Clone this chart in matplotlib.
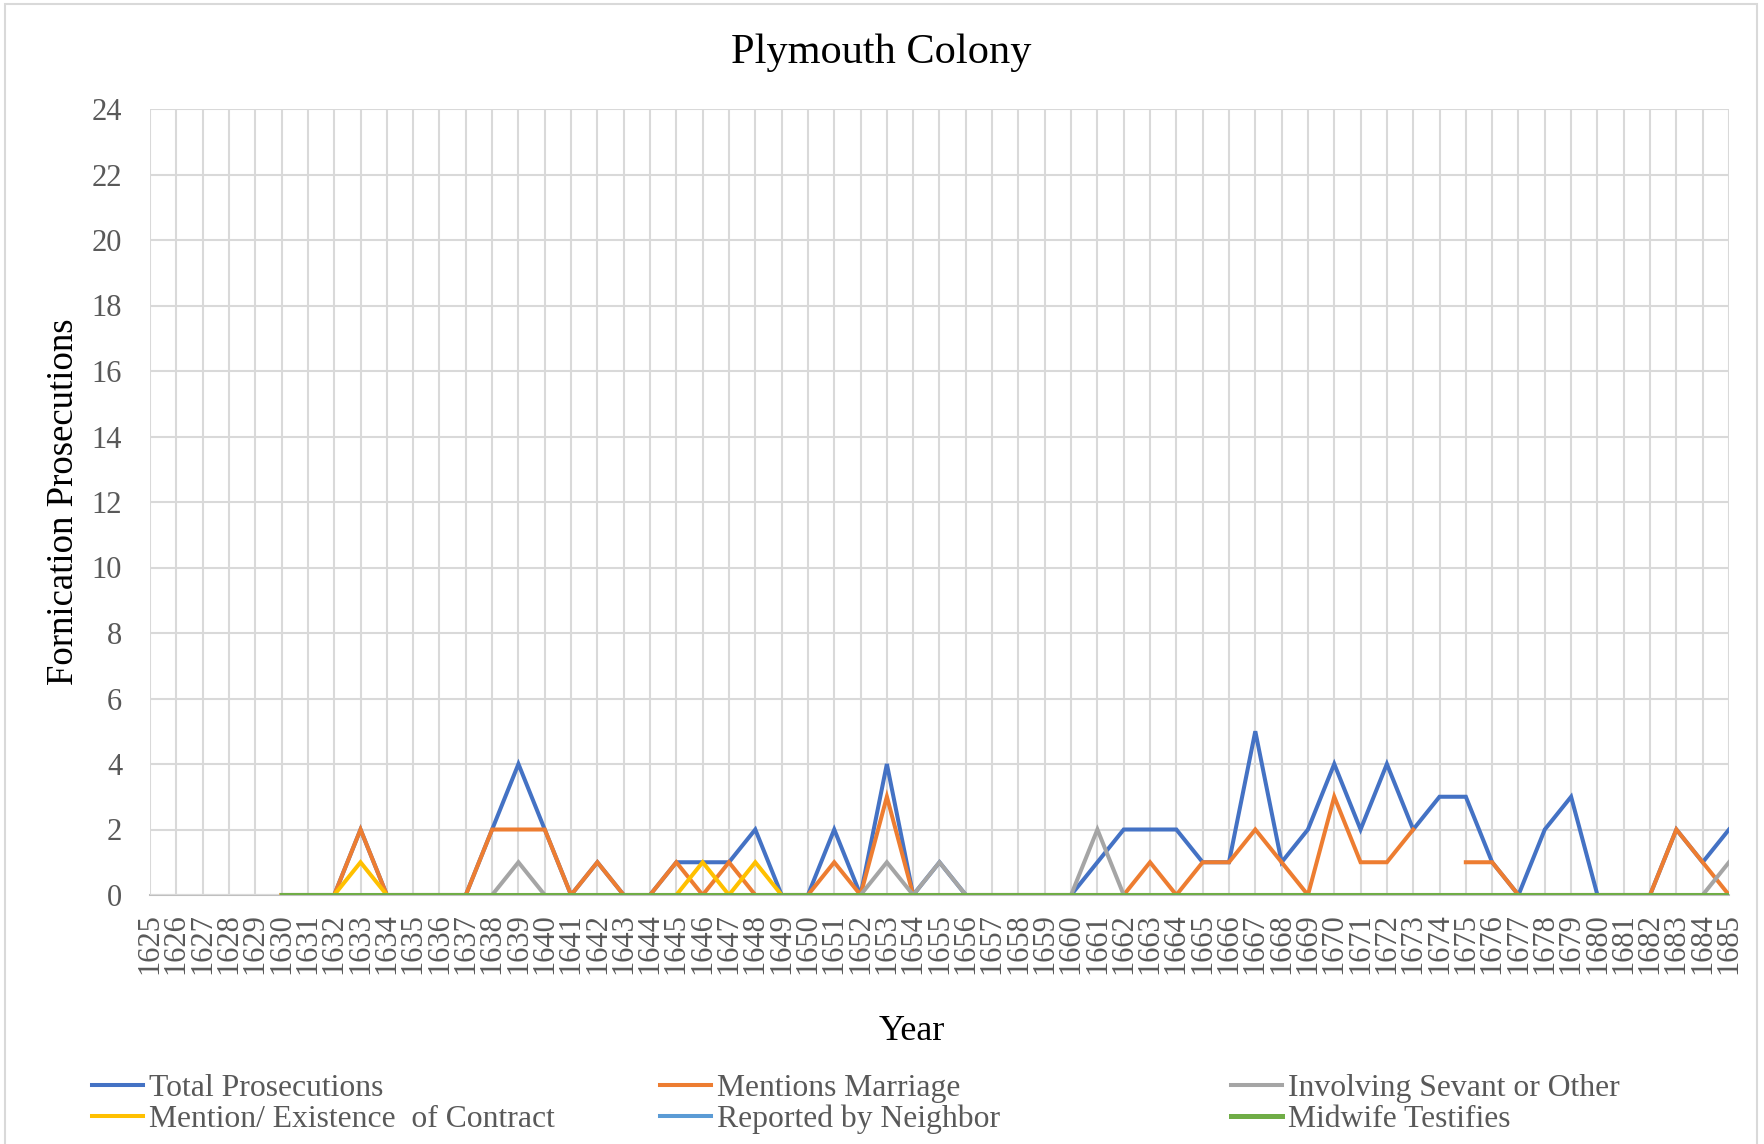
import numpy as np
import matplotlib
matplotlib.use("Agg")
import matplotlib.pyplot as plt
from matplotlib.patches import Rectangle

# ========== DATA ==========
years = list(range(1625, 1686))
nan = np.nan
# values start in 1630; 1625-1629 have no entries
pre = [nan] * 5

total = pre + [0, 0, 0, 2, 0, 0, 0, 0, 2, 4, 2, 0, 1, 0, 0, 1, 1, 1, 2, 0,
               0, 2, 0, 4, 0, 1, 0, 0, 0, 0, 0, 1, 2, 2, 2, 1, 1, 5, 1, 2,
               4, 2, 4, 2, 3, 3, 1, 0, 2, 3, 0, 0, 0, 2, 1, 2]
marriage = pre + [0, 0, 0, 2, 0, 0, 0, 0, 2, 2, 2, 0, 1, 0, 0, 1, 0, 1, 0, 0,
                  0, 1, 0, 3, 0, 0, 0, 0, 0, 0, 0, 0, 0, 1, 0, 1, 1, 2, 1, 0,
                  3, 1, 1, 2, nan, 1, 1, 0, 0, 0, 0, 0, 0, 2, 1, 0]
servant = pre + [0, 0, 0, 0, 0, 0, 0, 0, 0, 1, 0, 0, 0, 0, 0, 0, 0, 0, 0, 0,
                 0, 0, 0, 1, 0, 1, 0, 0, 0, 0, 0, 2, 0, 0, 0, 0, 0, 0, 0, 0,
                 0, 0, 0, 0, 0, 0, 0, 0, 0, 0, 0, 0, 0, 0, 0, 1]
contract = pre + [0, 0, 0, 1, 0, 0, 0, 0, 0, 0, 0, 0, 0, 0, 0, 0, 1, 0, 1, 0,
                  0, 0, 0, 0, 0, 0, 0, 0, 0, 0, 0, 0, 0, 0, 0, 0, 0, 0, 0, 0,
                  0, 0, 0, 0, 0, 0, 0, 0, 0, 0, 0, 0, 0, 0, 0, 0]
neighbor = pre + [0] * 56
midwife = pre + [0] * 56

labels = ["Total Prosecutions", "Mentions Marriage", "Involving Sevant or Other",
          "Mention/ Existence  of Contract", "Reported by Neighbor", "Midwife Testifies"]
colors = ["#4472C4", "#ED7D31", "#A5A5A5", "#FFC000", "#5B9BD5", "#70AD47"]
widths = [2.9, 2.9, 2.9, 2.9, 2.9, 3.6]
# ==========================

plt.rcParams['font.family'] = ['Liberation Serif', 'DejaVu Serif']

W, H = 1765, 1144
fig = plt.figure(figsize=(W / 100, H / 100), dpi=100)
ax = fig.add_axes([150 / W, 1 - 895 / H, (1729 - 150) / W, (895 - 109) / H])

x = np.arange(len(years))
series = [total, marriage, servant, contract, neighbor, midwife]
lines = []
for vals, lab, col, lw in zip(series, labels, colors, widths):
    ln, = ax.plot(x, vals, color=col, lw=lw, label=lab, solid_joinstyle='miter')
    lines.append(ln)

ax.set_xlim(0, len(years) - 1)
ax.set_ylim(0, 24)
ax.set_yticks(np.arange(0, 25, 2))
ax.set_xticks(x)
ax.set_xticklabels([str(y) for y in years], rotation=90)

ax.grid(True, color="#D9D9D9", lw=1.5)
ax.set_axisbelow(True)
for s in ["top", "left", "right"]:
    ax.spines[s].set_visible(False)
ax.spines["bottom"].set_color("#BFBFBF")
ax.spines["bottom"].set_linewidth(1.5)
ax.spines["bottom"].set_zorder(0.5)

ax.tick_params(axis='y', length=0, pad=20, labelsize=22, labelcolor="#595959")
ax.tick_params(axis='x', length=0, pad=13, labelsize=22, labelcolor="#595959")

ax.set_ylabel("Fornication Prosecutions", fontsize=26.5, va='center')
ax.yaxis.set_label_coords(-0.0545, 0.5)
ax.set_xlabel("Year", fontsize=26, va='center')
ax.xaxis.set_label_coords(0.4826, (895 - 1032) / 786)

fig.text(881 / W, 1 - 53 / H, "Plymouth Colony", fontsize=30.5, ha='center', va='center')

# legend laid out as three columns of two rows
col_x = [92, 660, 1231]
for k in range(3):
    fig.legend([lines[k], lines[k + 3]], [labels[k], labels[k + 3]],
               loc='center left', bbox_to_anchor=(col_x[k] / W, 1 - 1104 / H),
               frameon=False, fontsize=22.8, handlelength=1.6, handletextpad=0.2,
               borderpad=0, borderaxespad=0, labelspacing=0.06, labelcolor="#595959")

# chart border
fig.patches.append(Rectangle((5 / W, -0.02), (1757 - 5) / W, 1.02 - 4 / H,
                             transform=fig.transFigure, fill=False,
                             edgecolor="#D9D9D9", lw=1.5))

fig.savefig("out.png", dpi=100)
